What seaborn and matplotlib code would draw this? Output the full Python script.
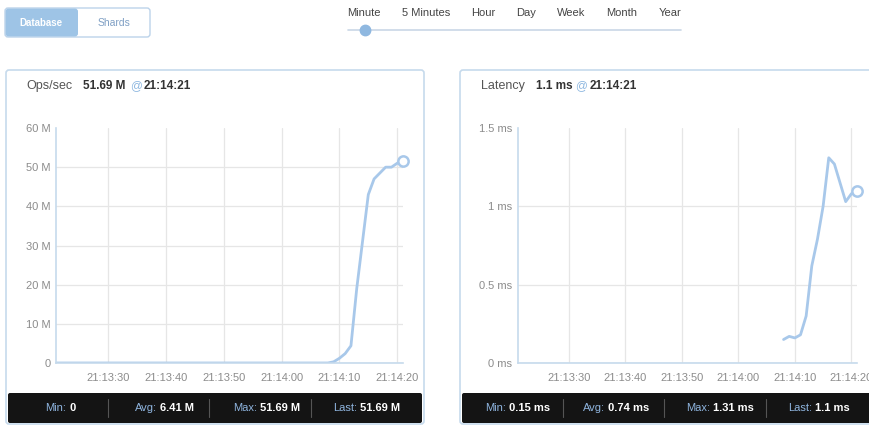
"""Recreate the Ops/sec and Latency dashboard panels."""

import matplotlib.dates as mdates
import matplotlib.pyplot as plt
import pandas as pd
import seaborn as sns
from matplotlib.lines import Line2D
from matplotlib.patches import FancyBboxPatch
from matplotlib.transforms import IdentityTransform

W, H = 869, 432

# Data
ops_times = [
    "21:13:21", "21:14:08", "21:14:09", "21:14:10", "21:14:11", "21:14:12",
    "21:14:13", "21:14:14", "21:14:15", "21:14:16", "21:14:17", "21:14:18",
    "21:14:19", "21:14:20", "21:14:21",
]
ops_values = [0, 0, 0.3, 1.2, 2.4, 4.4, 19, 31, 43, 47, 48.5, 50, 50, 51, 51.69]

lat_times = [
    "21:14:08", "21:14:09", "21:14:10", "21:14:11", "21:14:12", "21:14:13",
    "21:14:14", "21:14:15", "21:14:16", "21:14:17", "21:14:18", "21:14:19",
    "21:14:20", "21:14:21",
]
lat_values = [0.15, 0.17, 0.16, 0.18, 0.30, 0.62, 0.79, 1.0, 1.31, 1.27, 1.15, 1.03, 1.08, 1.1]

ops_yticks = [0, 10, 20, 30, 40, 50, 60]
ops_yticklabels = ["0", "10 M", "20 M", "30 M", "40 M", "50 M", "60 M"]
lat_yticks = [0, 0.5, 1.0, 1.5]
lat_yticklabels = ["0 ms", "0.5 ms", "1 ms", "1.5 ms"]
x_start, x_end = "21:13:21", "21:14:21"

range_labels = ["Minute", "5 Minutes", "Hour", "Day", "Week", "Month", "Year"]
ops_stats = [("Min:", "0"), ("Avg:", "6.41 M"), ("Max:", "51.69 M"), ("Last:", "51.69 M")]
lat_stats = [("Min:", "0.15 ms"), ("Avg:", "0.74 ms"), ("Max:", "1.31 ms"), ("Last:", "1.1 ms")]

# Colours
LINE = "#a8c8ea"
BORDER = "#c6daec"
GRID = "#e6e6e6"
TICK = "#8c8c8c"
BLUE_TXT = "#8fb5df"


def to_dt(times):
    return pd.to_datetime(["2024-01-01 " + t for t in times])


def fx(x):
    return x / W


def fy(y):
    return 1 - y / H


sns.set_style("white")
plt.rcParams["font.family"] = ["Liberation Sans", "DejaVu Sans"]

fig = plt.figure(figsize=(W / 100, H / 100), dpi=100)


def rbox(x0, y0, x1, y1, fc, ec, r=3, lw=1.0, z=-5):
    p = FancyBboxPatch(
        (x0, H - y1), x1 - x0, y1 - y0,
        boxstyle=f"round,pad=0,rounding_size={r}",
        fc=fc, ec=ec, lw=lw, transform=IdentityTransform(), zorder=z,
    )
    fig.patches.append(p)


# Header: toggle buttons
rbox(5, 8, 150, 37, "white", "#bcd3ea", r=3)
rbox(5.5, 8.5, 78, 36.5, "#9ec4e6", "none", r=3, z=-4)
fig.text(fx(41), fy(23), "Database", color="white", fontsize=7, weight="bold",
         ha="center", va="center")
fig.text(fx(114), fy(23), "Shards", color="#7f9fc4", fontsize=7.5,
         ha="center", va="center")

# Header: time range slider
range_x = [364, 426, 483, 526, 571, 622, 670]
for lbl, x in zip(range_labels, range_x):
    fig.text(fx(x), fy(13), lbl, color="#444444", fontsize=8, ha="center", va="center")
fig.add_artist(Line2D([fx(348), fx(681)], [fy(30), fy(30)], color="#c9d7e6", lw=1.2))
fig.add_artist(Line2D([fx(365)], [fy(30)], marker="o", ms=7.5, color="#8fb8e0",
                      mec="#8fb8e0"))


def header_text(xs, value):
    fig.text(fx(xs[0]), fy(86), value, color="#333333", fontsize=8.5, weight="bold",
             va="center")
    fig.text(fx(xs[1]), fy(86), "@", color="#8fb8e0", fontsize=8.5, va="center")
    fig.text(fx(xs[2]), fy(86), "21:14:21", color="#333333", fontsize=8.5, weight="bold",
             va="center")


def footer(x0, x1, stats, splits, seps):
    rbox(x0, 393, x1, 423, "#141414", "none", r=2, z=-4)
    for (lbl, val), s in zip(stats, splits):
        fig.text(fx(s), fy(408), lbl, color=BLUE_TXT, fontsize=8, ha="right", va="center")
        fig.text(fx(s + 3), fy(408), val, color="white", fontsize=8, weight="bold",
                 va="center")
    for s in seps:
        fig.add_artist(Line2D([fx(s), fx(s)], [fy(399), fy(417)], color="#555555", lw=0.8))


# Left panel frame
rbox(6, 70, 424, 424, "white", BORDER, r=3, lw=1.2)
fig.text(fx(26), fy(86), "Ops/sec", color="#555555", fontsize=9, va="center")
header_text([83, 130, 144], "51.69 M")
footer(8, 422, ops_stats, [66, 157, 257, 357], [108, 209, 311])

# Right panel frame (runs past the right edge)
rbox(460, 70, 900, 424, "white", BORDER, r=3, lw=1.2)
fig.text(fx(481), fy(86), "Latency", color="#555555", fontsize=9, va="center")
header_text([536, 575, 590], "1.1 ms")
footer(462, 900, lat_stats, [506, 605, 710, 812], [563, 664, 766])


def style_axes(ax, yticks, yticklabels, ymax):
    ax.set_xlim(to_dt([x_start])[0], to_dt([x_end])[0])
    ax.set_ylim(0, ymax)
    ax.set_yticks(yticks)
    ax.set_yticklabels(yticklabels)
    ax.xaxis.set_major_locator(mdates.SecondLocator(bysecond=[0, 10, 20, 30, 40, 50]))
    ax.xaxis.set_major_formatter(mdates.DateFormatter("%H:%M:%S"))
    ax.grid(True, color=GRID, lw=0.9)
    ax.set_axisbelow(True)
    for side in ["top", "right"]:
        ax.spines[side].set_visible(False)
    for side in ["left", "bottom"]:
        ax.spines[side].set_color(BORDER)
        ax.spines[side].set_linewidth(1.2)
    ax.tick_params(axis="both", length=0, labelsize=8, labelcolor=TICK)
    ax.tick_params(axis="x", pad=7)
    ax.tick_params(axis="y", pad=4)
    ax.set_xlabel("")
    ax.set_ylabel("")
    # no gridline along the top edge
    ax.get_ygridlines()[-1].set_visible(False)
    ax.set_facecolor("none")


ops_df = pd.DataFrame({"time": to_dt(ops_times), "value": ops_values})
lat_df = pd.DataFrame({"time": to_dt(lat_times), "value": lat_values})

ax1 = fig.add_axes([fx(56), fy(363), 347 / W, 235 / H])
sns.lineplot(data=ops_df, x="time", y="value", color=LINE, lw=2, ax=ax1)
sns.scatterplot(data=ops_df.tail(1), x="time", y="value", s=55, color="white",
                edgecolor=LINE, linewidth=1.8, ax=ax1, zorder=5, clip_on=False)
style_axes(ax1, ops_yticks, ops_yticklabels, 60)

ax2 = fig.add_axes([fx(518), fy(363), 339 / W, 235 / H])
sns.lineplot(data=lat_df, x="time", y="value", color=LINE, lw=2, ax=ax2)
sns.scatterplot(data=lat_df.tail(1), x="time", y="value", s=55, color="white",
                edgecolor=LINE, linewidth=1.8, ax=ax2, zorder=5, clip_on=False)
style_axes(ax2, lat_yticks, lat_yticklabels, 1.5)

fig.savefig("out.png", dpi=100, facecolor="white")
plt.close()
